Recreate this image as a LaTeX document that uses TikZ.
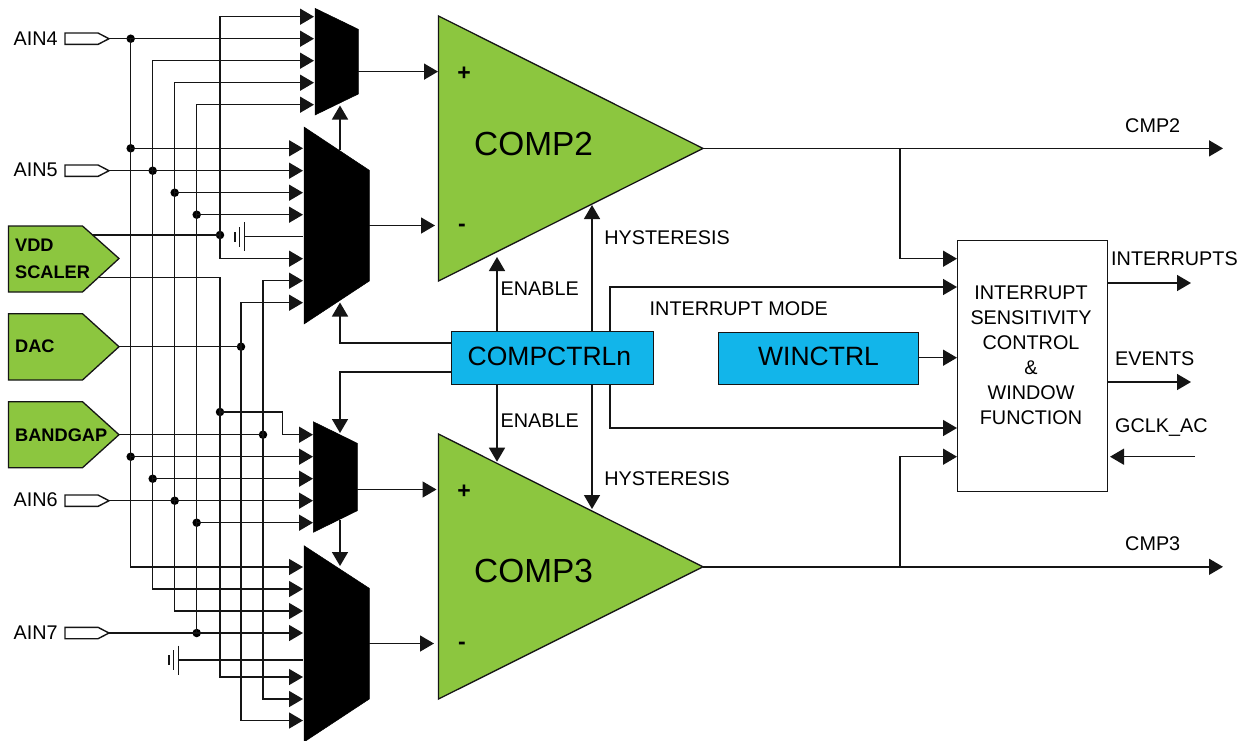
\documentclass[tikz,border=0pt]{standalone}
\usepackage{fontspec}
\setmainfont{Liberation Sans}
\usetikzlibrary{arrows.meta}
\definecolor{cgreen}{HTML}{8CC63F}
\definecolor{cblue}{HTML}{12B5EA}
\definecolor{cline}{HTML}{151515}
\tikzset{
  wire/.style={draw=cline,line width=1.5pt,line cap=butt,line join=miter},
  arr/.style={wire,-{Triangle[length=14pt,width=16pt]}},
  solder/.style={circle,fill=black,inner sep=0pt,minimum size=8.5pt},
  muxbody/.style={fill=black,draw=black,line width=.5pt},
  greenshape/.style={fill=cgreen,draw=cline,line width=1.3pt,line join=miter},
  pinshape/.style={fill=white,draw=cline,line width=1.4pt,line join=miter},
  ctrl/.style={fill=cblue,draw=cline,line width=1.4pt,inner sep=0pt,anchor=north west},
  lab/.style={anchor=base west,inner sep=0pt,font=\fontsize{19.8}{24}\selectfont,text=black},
  blab/.style={anchor=base west,inner sep=0pt,font=\fontsize{18.2}{22}\selectfont\bfseries,text=black},
  big/.style={anchor=base west,inner sep=0pt,font=\fontsize{33.4}{38}\selectfont,text=black},
  mid/.style={anchor=base west,inner sep=0pt,font=\fontsize{26.5}{30}\selectfont,text=black},
  sign/.style={inner sep=0pt,font=\fontsize{23}{26}\selectfont\bfseries,text=black},
}
\begin{document}
\begin{tikzpicture}[x=1pt,y=-1pt]
\useasboundingbox (0,0) rectangle (1249,740);
% --- bus coordinates: mux inputs
\foreach \n/\y in {1/16.7,2/38.7,3/60.7,4/82.7,5/104.7}{\coordinate (a\n) at (314,\y);}
\foreach \n/\y in {1/148.3,2/170.7,3/192.7,4/214.7,5/236.7,6/258.7,7/280.7,8/302.7}{\coordinate (b\n) at (303,\y);}
\foreach \n/\y in {1/434.7,2/456.7,3/478.7,4/500.7,5/522.7}{\coordinate (c\n) at (313,\y);}
\foreach \n/\y in {1/567,2/589,3/611,4/633,5/660,6/677,7/699,8/720.5}{\coordinate (d\n) at (303,\y);}
% pin tips
\coordinate (ain4) at (109,38.7);
\coordinate (ain5) at (109,170.7);
\coordinate (ain6) at (109,500.7);
\coordinate (ain7) at (109,633);
\coordinate (vdd1) at (90,235);
\coordinate (vdd2) at (90,277.3);
\coordinate (dac) at (119,346.7);
\coordinate (bg) at (119,434.7);
% bus joints
\node[solder] (j1) at (130.7,38.7) {};
\node[solder] (j2) at (130.7,148.3) {};
\node[solder] (j3) at (152.7,170.7) {};
\node[solder] (j4) at (174.7,192.7) {};
\node[solder] (j5) at (196.7,214.7) {};
\node[solder] (j6) at (220,235) {};
\node[solder] (j7) at (241,346.7) {};
\node[solder] (j8) at (263,434.7) {};
\node[solder] (j9) at (220,412) {};
\node[solder] (j10) at (130.7,456.7) {};
\node[solder] (j11) at (152.7,478.7) {};
\node[solder] (j12) at (174.7,500.7) {};
\node[solder] (j13) at (196.7,522.7) {};
\node[solder] (j14) at (196.7,633) {};
% inputs
\draw[arr] (ain4) -- (a2);
\draw[arr] (j1.center) |- (d1);
\draw[arr] (j2.center) -- (b1);
\draw[arr] (j10.center) -- (c2);
\draw[arr] (ain5) -- (b2);
\draw[arr] (j3.center) |- (a3);
\draw[arr] (j3.center) |- (d2);
\draw[arr] (j11.center) -- (c3);
\draw[arr] (j4.center) |- (a4);
\draw[arr] (j4.center) -- (b3);
\draw[arr] (j4.center) |- (d3);
\draw[arr] (ain6) -- (c4);
\draw[arr] (j14.center) |- (a5);
\draw[arr] (j5.center) -- (b4);
\draw[arr] (j13.center) -- (c5);
\draw[arr] (ain7) -- (d4);
\draw[arr] (j6.center) |- (a1);
\draw[arr] (j6.center) |- (b6);
\draw[wire] (vdd1) -- (j6.center);
\draw[arr] (vdd2) -| (j9.center) |- (d6);
\draw[arr] (j9.center) -- (282.7,412) |- (c1);
\draw[wire] (dac) -- (j7.center);
\draw[arr] (j7.center) |- (b8);
\draw[arr] (j7.center) |- (d8);
\draw[wire] (bg) -- (j8.center);
\draw[arr] (j8.center) |- (b7);
\draw[arr] (j8.center) |- (d7);
% grounds
\coordinate (g1) at (244.3,236.7);
\coordinate (g2) at (178.3,660);
\draw[wire] (g1) -- (b5);
\draw[wire] (g1 |- 0,222) -- (g1 |- 0,251);
\draw[wire] (239.7,227) -- (239.7,247);
\draw[wire] (235,232) -- (235,242);
\draw[wire] (g2) -- (d5);
\draw[wire] (g2 |- 0,645.7) -- (g2 |- 0,674.7);
\draw[wire] (173.7,650) -- (173.7,670);
\draw[wire] (169,655) -- (169,665);
% muxes
\fill[muxbody] (315,8.3) coordinate (m1) -- (358.3,29.3) -- (358.3,94) -- (315,115) -- cycle;
\fill[muxbody] (304,127) -- (369.3,170.3) -- (369.3,281) -- (304,324) -- cycle;
\fill[muxbody] (313.3,421.7) -- (357.3,443.3) -- (357.3,510.7) -- (313.3,532.3) -- cycle;
\fill[muxbody] (304,545.7) -- (369.3,588.3) -- (369.3,699) -- (304,742) -- cycle;
% comparators
\path[greenshape] (438.5,16) -- (703,148.4) coordinate (c2out) -- (438.5,281) -- cycle;
\path[greenshape] (438.5,434) -- (703,566.8) coordinate (c3out) -- (438.5,699) -- cycle;
\node[big] (comp2) at (474,155) {COMP2};
\node[big] (comp3) at (474,582.7) {COMP3};
\node[sign] (p2) at (464,74) {+};
\node[sign] (n2) at (462,227.5) {-};
\node[sign] (p3) at (464,492) {+};
\node[sign] (n3) at (462,646) {-};
% control boxes
\node[ctrl,minimum width=201.5pt,minimum height=53pt] (cc) at (451,331) {};
\node[ctrl,minimum width=200.5pt,minimum height=52pt] (wc) at (717.5,332) {};
\node[mid] (cct) at (467.5,365.7) {COMPCTRLn};
\node[mid] (wct) at (758,365.7) {WINCTRL};
\node[ctrl,fill=white,minimum width=150pt,minimum height=251pt] (win) at (957,240) {};
\foreach \i/\t/\y in {1/INTERRUPT/299,2/SENSITIVITY/324,3/CONTROL/349,4/\&/374,5/WINDOW/399,6/FUNCTION/424}{
  \node[lab,anchor=base] (w\i) at (1031,\y) {\t};
}
% mux outputs
\draw[arr] (358.3,71.6) -- (438,71.6);
\draw[arr] (369.3,225.5) -- (435,225.5);
\draw[arr] (357.3,489.5) -- (436.5,489.5);
\draw[arr] (369.3,643.5) -- (434,643.5);
% select lines
\draw[arr] (340,150) -- (340,105.5);
\draw[arr] (cc.west |- 0,343) -| (340,302.5);
\draw[arr] (cc.west |- 0,372) -| (340,433);
\draw[arr] (340,520) -- (340,566);
% enable / hysteresis
\draw[arr] (cc.north -| 497,0) -- (497,257);
\draw[arr] (cc.south -| 497,0) -- (497,461.7);
\draw[arr] (cc.north -| 592,0) -- (592,205);
\draw[arr] (cc.south -| 592,0) -- (592,509);
% interrupt mode
\draw[arr] (cc.north -| 610,0) |- (win.west |- 0,287);
\draw[arr] (cc.south -| 610,0) |- (win.west |- 0,428);
\draw[arr] (wc.east |- 0,357.7) -- (win.west |- 0,357.7);
% outputs
\coordinate (cmp2end) at (1223,148.4);
\coordinate (cmp3end) at (1223,566.8);
\coordinate (i1) at (1191,283);
\coordinate (i2) at (1191,382);
\coordinate (gclk) at (1195,456.7);
\draw[arr] (c2out) -- (cmp2end);
\draw[arr] (c3out) -- (cmp3end);
\draw[arr] (900,148.4) |- (win.west |- 0,258.7);
\draw[arr] (900,566.8) |- (win.west |- 0,456.7);
\draw[arr] (win.east |- i1) -- (i1);
\draw[arr] (win.east |- i2) -- (i2);
\draw[arr] (gclk) -- (1110,456.7);
% pins
\path[pinshape] (65,33) -- (98,33) -- (ain4) -- (98,44.4) -- (65,44.4) -- cycle;
\path[pinshape] (65,165) -- (98,165) -- (ain5) -- (98,176.4) -- (65,176.4) -- cycle;
\path[pinshape] (65,495) -- (98,495) -- (ain6) -- (98,506.4) -- (65,506.4) -- cycle;
\path[pinshape] (65,627.3) -- (98,627.3) -- (ain7) -- (98,638.7) -- (65,638.7) -- cycle;
\path[greenshape] (8.5,226) -- (82.5,226) -- (119,258.5) -- (82.5,292) -- (8.5,292) -- cycle;
\path[greenshape] (8.5,313.7) -- (82.5,313.7) -- (dac) -- (82.5,380) -- (8.5,380) -- cycle;
\path[greenshape] (8.5,401.7) -- (82.5,401.7) -- (bg) -- (82.5,467.7) -- (8.5,467.7) -- cycle;
% labels
\node[lab] (t1) at (13.5,45.7) {AIN4};
\node[lab] (t2) at (13.5,176) {AIN5};
\node[lab] (t3) at (13.5,506) {AIN6};
\node[lab] (t4) at (13.5,639) {AIN7};
\node[blab] (t5) at (15,251.7) {VDD};
\node[blab] (t6) at (15,278.5) {SCALER};
\node[blab] (t7) at (15,352.7) {DAC};
\node[blab] (t8) at (15,441.7) {BANDGAP};
\node[lab] (t9) at (500.5,295.7) {ENABLE};
\node[lab] (t10) at (500.5,427.7) {ENABLE};
\node[lab] (t11) at (604.2,244) {HYSTERESIS};
\node[lab] (t12) at (604.2,485) {HYSTERESIS};
\node[lab] (t13) at (649.5,315) {INTERRUPT MODE};
\node[lab] (t14) at (1125,132.3) {CMP2};
\node[lab] (t15) at (1125,550) {CMP3};
\node[lab] (t16) at (1111,265.7) {INTERRUPTS};
\node[lab] (t17) at (1115,365.7) {EVENTS};
\node[lab] (t18) at (1115,432.7) {GCLK\_AC};
\end{tikzpicture}
\end{document}
